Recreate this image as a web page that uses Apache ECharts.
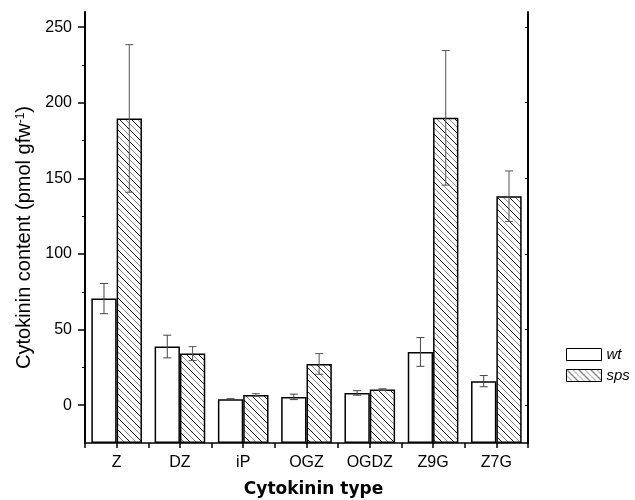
<!DOCTYPE html>
<html>
<head>
<meta charset="utf-8">
<script src="https://cdn.jsdelivr.net/npm/echarts@6/dist/echarts.min.js"></script>
<style>
html,body{margin:0;padding:0;background:#fff;}
#chart{width:635px;height:500px;}
</style>
</head>
<body>
<div id="chart"></div>
<script>
// ---- data ----
var categories = ['Z', 'DZ', 'iP', 'OGZ', 'OGDZ', 'Z9G', 'Z7G'];
var wtMean  = [70.5, 38.8, 4.0, 5.5, 8.1, 35.2, 15.9];
var wtErr   = [10.0, 7.5, 0.3, 1.8, 1.5, 9.5, 3.7];
var spsMean = [189.6, 34.1, 6.8, 27.3, 10.4, 190.0, 138.2];
var spsErr  = [48.8, 4.6, 0.8, 6.8, 0.5, 44.5, 16.7];
var yMajorTicks = [0, 50, 100, 150, 200, 250];
var yMinorTicks = [25, 75, 125, 175, 225];
var seriesNames = ['wt', 'sps'];

// hatch pattern for sps
function makeHatch() {
  var s = 12;
  var c = document.createElement('canvas');
  c.width = s; c.height = s;
  var ctx = c.getContext('2d');
  ctx.fillStyle = '#fff';
  ctx.fillRect(0, 0, s, s);
  ctx.lineWidth = 1;
  for (var k = -3; k <= 3; k++) {
    ctx.strokeStyle = (Math.abs(k) % 2 === 0) ? '#111' : '#888';
    ctx.beginPath();
    ctx.moveTo(-2, -2 + k * 6);
    ctx.lineTo(s + 2, s + 2 + k * 6);
    ctx.stroke();
  }
  return c;
}
var hatch = { image: makeHatch(), repeat: 'repeat' };

var font = 'Liberation Sans, Arial, sans-serif';

function errData(mean, err) {
  return mean.map(function (m, i) { return [i, m - err[i], m + err[i]]; });
}

function errRender(sign, color) {
  return function (params, api) {
    var idx = api.value(0);
    var lo = api.coord([idx, api.value(1)]);
    var hi = api.coord([idx, api.value(2)]);
    var band = api.size([1, 0])[0];
    var bw = band * 0.8 / 2;
    var x = lo[0] + sign * bw / 2;
    var cap = 4;
    var st = { stroke: color, lineWidth: 1 };
    return {
      type: 'group',
      children: [
        { type: 'line', shape: { x1: x, y1: hi[1], x2: x, y2: lo[1] }, style: st },
        { type: 'line', shape: { x1: x - cap, y1: hi[1], x2: x + cap, y2: hi[1] }, style: st },
        { type: 'line', shape: { x1: x - cap, y1: lo[1], x2: x + cap, y2: lo[1] }, style: st }
      ]
    };
  };
}

var chart = echarts.init(document.getElementById('chart'), null, { renderer: 'canvas' });
var yMin = -25, yMax = 260;

chart.setOption({
  animation: false,
  backgroundColor: '#fff',
  grid: { left: 85, right: 107, top: 12, bottom: 57, containLabel: false, outerBoundsMode: 'none' },
  legend: {
    data: seriesNames,
    orient: 'vertical',
    left: 566, top: 347,
    padding: 0,
    itemWidth: 35, itemHeight: 12, itemGap: 6,
    icon: 'rect',
    textStyle: { fontFamily: font, fontSize: 15, fontStyle: 'italic', color: '#000' },
    itemStyle: { borderColor: '#000', borderWidth: 1 }
  },
  xAxis: [{
    type: 'category',
    data: categories,
    position: 'bottom',
    name: 'Cytokinin type',
    nameLocation: 'middle',
    nameGap: 38,
    nameTextStyle: { fontFamily: 'DejaVu Sans', fontWeight: 'bold', fontSize: 17, color: '#000', padding: [0, 0, 0, 14] },
    axisLine: { onZero: false, lineStyle: { color: '#000', width: 1.5 } },
    axisTick: { show: true, length: 5, lineStyle: { color: '#000', width: 1.5 } },
    axisLabel: { fontFamily: font, fontSize: 16, color: '#000', margin: 12 },
    splitLine: { show: false }
  }, {
    type: 'category',
    data: categories,
    position: 'bottom',
    axisLine: { show: false, onZero: false },
    axisTick: { show: true, alignWithLabel: true, length: 5, lineStyle: { color: '#000', width: 1.5 } },
    axisLabel: { show: false },
    splitLine: { show: false }
  }],
  yAxis: [{
    type: 'value',
    min: yMin, max: yMax,
    startValue: yMin,
    position: 'left',
    name: 'Cytokinin content (pmol gfw{sup|-1})',
    nameLocation: 'middle',
    nameRotate: 90,
    nameGap: 44,
    nameTextStyle: {
      fontFamily: font, fontSize: 20, color: '#000',
      padding: [0, 20, 0, 0],
      rich: { sup: { fontFamily: font, fontSize: 12, verticalAlign: 'top', color: '#000' } }
    },
    axisLine: { show: true, lineStyle: { color: '#000', width: 2 } },
    axisTick: { show: true, length: 7, customValues: yMajorTicks, lineStyle: { color: '#000', width: 1.5 } },
    axisLabel: { fontFamily: font, fontSize: 16, color: '#000', margin: 13, customValues: yMajorTicks },
    splitLine: { show: false }
  }, {
    type: 'value',
    min: yMin, max: yMax,
    position: 'left',
    axisLine: { show: false },
    axisTick: { show: true, length: 3, customValues: yMinorTicks, lineStyle: { color: '#000', width: 1 } },
    axisLabel: { show: false },
    splitLine: { show: false }
  }, {
    type: 'value',
    min: yMin, max: yMax,
    position: 'right',
    axisLine: { show: true, lineStyle: { color: '#000', width: 2 } },
    axisTick: { show: true, inside: true, length: 3, customValues: yMajorTicks, lineStyle: { color: '#000', width: 1 } },
    axisLabel: { show: false },
    splitLine: { show: false }
  }],
  series: [{
    name: 'wt',
    type: 'bar',
    data: wtMean,
    barGap: '0%',
    barCategoryGap: '20%',
    itemStyle: { color: '#fff', borderColor: '#000', borderWidth: 1.5 }
  }, {
    name: 'sps',
    type: 'bar',
    data: spsMean,
    barGap: '0%',
    barCategoryGap: '20%',
    itemStyle: { color: hatch, borderColor: '#000', borderWidth: 1.5 }
  }, {
    type: 'custom',
    name: 'wtErr',
    data: errData(wtMean, wtErr),
    renderItem: errRender(-1, '#444'),
    z: 5
  }, {
    type: 'custom',
    name: 'spsErr',
    data: errData(spsMean, spsErr),
    renderItem: errRender(1, '#555'),
    z: 5
  }]
});
</script>
</body>
</html>
